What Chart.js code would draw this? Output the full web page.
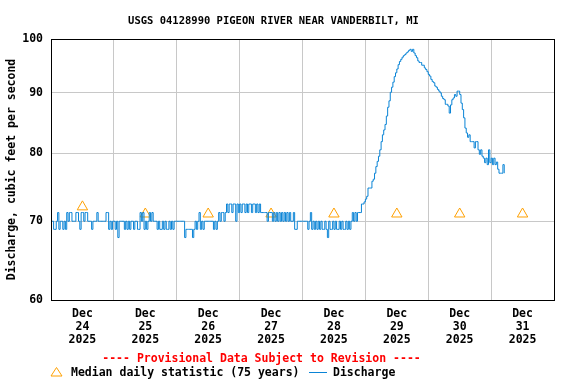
<!DOCTYPE html>
<html>
<head>
<meta charset="utf-8">
<script src="https://cdn.jsdelivr.net/npm/chart.js@4.4.1/dist/chart.umd.min.js"></script>
<style>
  html, body { margin: 0; padding: 0; background: #fff; }
  canvas { display: block; }
</style>
</head>
<body>
<canvas id="chart" width="576" height="384"></canvas>
<script>
// Discharge in cfs, one reading every 30 minutes, one array per day.
const flowDec24 = [70,70,68.9,68.9,70,71.2,68.9,70,70,68.9,70,68.9,71.2,70,71.2,71.2,70,70,70,71.2,71.2,70,68.9,71.2,71.2,70,71.2,71.2,70,70,70,68.9,70,70,70,71.2,70,70,70,70,70,70,71.2,71.2,68.9,70,68.9,70];
const flowDec25 = [70,68.9,70,67.8,70,70,70,70,68.9,70,68.9,70,68.9,70,70,68.9,70,70,68.9,68.9,71.2,70,71.2,68.9,70,68.9,70,71.2,70,71.2,70,70,70,68.9,70,68.9,68.9,70,68.9,70,68.9,68.9,70,68.9,70,68.9,70,70];
const flowDec26 = [70,70,70,70,70,70,67.8,68.9,68.9,68.9,68.9,68.9,67.8,68.9,70,68.9,70,71.2,68.9,70,68.9,70,70,70,70,70,70,70,68.9,70,68.9,70,71.2,70,71.2,71.2,70,71.2,72.4,71.2,72.4,72.4,71.2,72.4,72.4,70,72.4,71.2];
const flowDec27 = [72.4,71.2,72.4,72.4,71.2,72.4,71.2,72.4,72.4,71.2,72.4,72.4,71.2,72.4,71.2,72.4,71.2,71.2,71.2,71.2,71.2,70,71.2,71.2,71.2,70,71.2,70,71.2,70,71.2,70,71.2,70,71.2,70,71.2,70,71.2,70,70,71.2,68.9,68.9,70,70,70,70];
const flowDec28 = [70,70,70,70,68.9,70,71.2,68.9,70,68.9,70,68.9,70,68.9,70,68.9,68.9,70,68.9,67.8,70,68.9,68.9,70,68.9,70,68.9,68.9,70,68.9,70,68.9,68.9,70,68.9,70,68.9,70,71.2,70,71.2,70,71.2,71.2,71.2,72.4,72.4,72.7];
const flowDec29 = [73.1,73.5,74.7,74.7,74.7,75.7,76.0,76.9,77.9,78.7,79.5,80.5,81.8,82.9,83.7,84.6,86.0,87.5,88.6,90.1,91.0,91.9,92.9,93.6,94.3,95.1,95.7,96.1,96.5,96.8,97.0,97.3,97.5,97.8,98.0,97.6,98.0,97.3,96.8,96.4,95.8,95.5,95.5,95.0,95.0,94.5,94.2,93.8];
const flowDec30 = [93.3,93.0,92.4,92.0,91.8,91.2,91.0,90.6,90.3,90.0,89.4,89.0,88.8,88.0,88.0,87.7,86.5,87.9,88.8,89.1,89.7,89.4,90.3,90.3,89.7,88.2,87.1,85.7,84.0,83.2,82.5,82.9,81.8,81.8,81.8,80.8,81.8,81.8,80.5,79.8,80.5,79.5,79.2,78.5,79.2,78.2,80.5,78.5];
const flowDec31 = [79.2,78.2,79.2,78.2,78.6,77.5,76.9,76.9,76.9,78.2,76.9];

// Median daily statistic, plotted at noon of each day.
const dayNames = ['24','25','26','27','28','29','30','31'];
const medianValues = [72,71,71,71,71,71,71,71];
const yTicks = [60,70,80,90,100];

const days = [flowDec24, flowDec25, flowDec26, flowDec27, flowDec28, flowDec29, flowDec30, flowDec31];
const flowPoints = [];
days.forEach((arr, d) => {
  arr.forEach((v, j) => flowPoints.push({ x: d * 24 + j * 0.5, y: v }));
});
const medianPoints = medianValues.map((v, d) => ({ x: d * 24 + 12, y: v }));

const BLUE = '#0a84d6';
const ORANGE = '#ffa000';
const FONT = '"DejaVu Sans Mono", "Liberation Mono", monospace';

// Title, frame, provisional note and legend.
const overlay = {
  id: 'overlay',
  afterDraw(chart) {
    const { ctx, chartArea: a } = chart;
    ctx.save();
    ctx.strokeStyle = '#000';
    ctx.lineWidth = 1;
    ctx.strokeRect(a.left + 0.5, a.top + 0.5, a.right - a.left, a.bottom - a.top);

    ctx.fillStyle = '#000';
    ctx.textBaseline = 'middle';
    ctx.textAlign = 'center';
    ctx.font = 'bold 10.5px ' + FONT;
    ctx.fillText('USGS 04128990 PIGEON RIVER NEAR VANDERBILT, MI', 273.5, 21);

    ctx.font = 'bold 11.5px ' + FONT;
    ctx.fillStyle = '#ff0000';
    ctx.fillText('---- Provisional Data Subject to Revision ----', 261.5, 359);

    // legend
    ctx.strokeStyle = ORANGE;
    ctx.beginPath();
    ctx.moveTo(56.5, 367.5);
    ctx.lineTo(62, 376);
    ctx.lineTo(51, 376);
    ctx.closePath();
    ctx.stroke();

    ctx.fillStyle = '#000';
    ctx.textAlign = 'left';
    ctx.fillText('Median daily statistic (75 years)', 71, 373);

    ctx.strokeStyle = BLUE;
    ctx.beginPath();
    ctx.moveTo(309, 372.5);
    ctx.lineTo(327, 372.5);
    ctx.stroke();
    ctx.fillText('Discharge', 333, 373);
    ctx.restore();
  }
};

new Chart(document.getElementById('chart'), {
  type: 'line',
  data: {
    datasets: [
      {
        label: 'Discharge',
        data: flowPoints,
        borderColor: BLUE,
        borderWidth: 1,
        pointRadius: 0,
        stepped: true,
        fill: false
      },
      {
        label: 'Median daily statistic (75 years)',
        data: medianPoints,
        showLine: false,
        pointStyle: 'triangle',
        pointRadius: 6,
        pointBorderWidth: 1,
        pointBorderColor: ORANGE,
        pointBackgroundColor: 'rgba(0,0,0,0)'
      }
    ]
  },
  options: {
    responsive: false,
    animation: false,
    devicePixelRatio: 1,
    layout: { padding: { left: 0, right: 22, top: 39, bottom: 0 } },
    plugins: {
      legend: { display: false },
      tooltip: { enabled: false },
      title: { display: false }
    },
    scales: {
      x: {
        type: 'linear',
        min: 0,
        max: 192,
        afterFit: s => { s.height = 84; },
        grid: {
          drawTicks: false,
          color: c => (c.tick && c.tick.value % 24 === 0) ? '#c8c8c8' : 'rgba(0,0,0,0)'
        },
        border: { color: '#000', width: 1 },
        ticks: {
          stepSize: 12,
          autoSkip: false,
          maxRotation: 0,
          padding: 7,
          color: '#000',
          font: { family: FONT, size: 11.5, weight: 'bold', lineHeight: 1.15 },
          callback: v => (v % 24 === 12) ? ['Dec', dayNames[(v - 12) / 24], '2025'] : ''
        }
      },
      y: {
        type: 'logarithmic',
        min: 60,
        max: 100,
        afterFit: s => { s.width = 51; },
        afterBuildTicks: s => { s.ticks = yTicks.map(v => ({ value: v })); },
        grid: { drawTicks: false, color: '#c8c8c8' },
        border: { color: '#000', width: 1 },
        ticks: {
          padding: 8,
          color: '#000',
          font: { family: FONT, size: 11.5, weight: 'bold' },
          callback: v => String(v)
        },
        title: {
          display: true,
          text: 'Discharge, cubic feet per second',
          color: '#000',
          padding: { top: 5, bottom: 0 },
          font: { family: FONT, size: 11.5, weight: 'bold' }
        }
      }
    }
  },
  plugins: [overlay]
});
</script>
</body>
</html>
